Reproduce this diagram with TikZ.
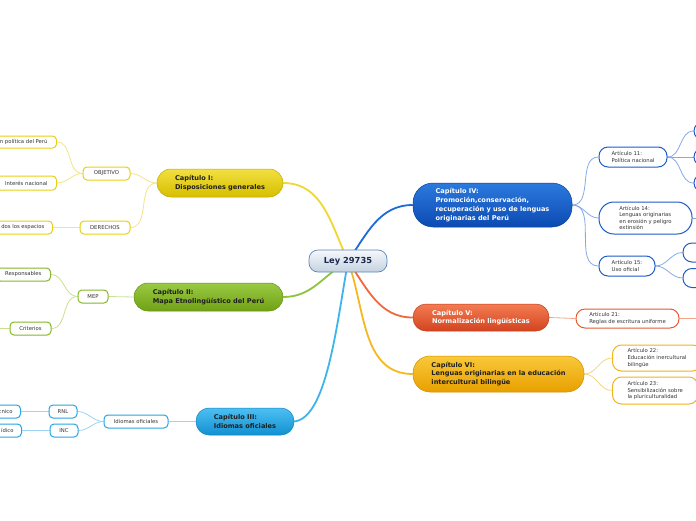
\documentclass[tikz,border=0pt]{standalone}
\usepackage{fontspec}
\setmainfont{DejaVu Sans}
\pgfdeclarelayer{bg}
\pgfsetlayers{bg,main}
\definecolor{yelT}{HTML}{F2E040}\definecolor{yelB}{HTML}{D6BE00}\definecolor{yelL}{HTML}{F3E48A}\definecolor{yelD}{HTML}{E8D010}\definecolor{yelM}{HTML}{F0D830}
\definecolor{grnT}{HTML}{9ACA42}\definecolor{grnB}{HTML}{70A016}\definecolor{grnL}{HTML}{C8E192}\definecolor{grnD}{HTML}{84B828}\definecolor{grnM}{HTML}{8CC43C}
\definecolor{lbuT}{HTML}{4CC0F2}\definecolor{lbuB}{HTML}{1290D2}\definecolor{lbuL}{HTML}{9CD5F2}\definecolor{lbuD}{HTML}{28A4E2}\definecolor{lbuM}{HTML}{3CB4EC}
\definecolor{bluT}{HTML}{2C7ADE}\definecolor{bluB}{HTML}{0C4AB2}\definecolor{bluL}{HTML}{86AAE8}\definecolor{bluD}{HTML}{1E5CC8}\definecolor{bluM}{HTML}{1E6AD6}
\definecolor{oraT}{HTML}{F47C52}\definecolor{oraB}{HTML}{D24420}\definecolor{oraL}{HTML}{F2A68A}\definecolor{oraD}{HTML}{E45A34}\definecolor{oraM}{HTML}{F0683C}
\definecolor{ambT}{HTML}{F9C83A}\definecolor{ambB}{HTML}{E8A000}\definecolor{ambL}{HTML}{F8D67C}\definecolor{ambD}{HTML}{F2B418}\definecolor{ambM}{HTML}{F5B820}
\definecolor{cenT}{HTML}{F6F8FB}\definecolor{cenB}{HTML}{C4D2E0}\definecolor{cenD}{HTML}{5A86B4}\definecolor{cenX}{HTML}{1A2850}
\definecolor{txt}{HTML}{333333}
\begin{document}
\begin{tikzpicture}[x=1pt,y=-1pt,
  chap/.style={line width=0.5pt, align=left, font=\bfseries\fontsize{6.6}{8.8}\selectfont, inner sep=0pt, text=black!88},
  sub/.style={fill=white, line width=1pt, rounded corners=4pt, align=left, font=\fontsize{5.3}{6.6}\selectfont, text=txt, inner sep=0pt},
  main/.style={line width=1.8pt},
  thin/.style={line width=0.8pt}]
\useasboundingbox (0,0) rectangle (696,520);
\clip (0,0) rectangle (696,520);

% central
\node[draw=cenD, line width=0.7pt, top color=cenT, bottom color=cenB, rounded corners=9pt, minimum width=78pt, minimum height=22pt, font=\bfseries\fontsize{8.3}{9}\selectfont, text=cenX] (ley) at (348,261) {Ley 29735};

% chapters
\node[chap, draw=yelB!90!black, top color=yelT, bottom color=yelB, minimum width=126pt, minimum height=28pt, rounded corners=14pt] (c1) at (220,183) {Capítulo I:\\Disposiciones generales};
\node[chap, draw=grnB!90!black, top color=grnT, bottom color=grnB, minimum width=149pt, minimum height=28pt, rounded corners=14pt] (c2) at (208.5,297) {Capítulo II:\\Mapa Etnolingüístico del Perú};
\node[chap, draw=lbuB!90!black, top color=lbuT, bottom color=lbuB, minimum width=98pt, minimum height=27pt, rounded corners=13pt] (c3) at (245,421.5) {Capítulo III:\\Idiomas oficiales};
\node[chap, draw=bluB!90!black, top color=bluT, bottom color=bluB, minimum width=159pt, minimum height=44pt, rounded corners=20pt, text=white] (c4) at (492.5,205) {Capítulo IV:\\Promoción,conservación,\\recuperación y uso de lenguas\\originarias del Perú};
\node[chap, draw=oraB!90!black, top color=oraT, bottom color=oraB, minimum width=136pt, minimum height=27pt, rounded corners=13pt, text=white] (c5) at (481,317.5) {Capítulo V:\\Normalización lingüísticas};
\node[chap, draw=ambB!90!black, top color=ambT, bottom color=ambB, minimum width=171pt, minimum height=36pt, rounded corners=17pt] (c6) at (498.5,374) {Capítulo VI:\\Lenguas originarias en la educación\\intercultural bilingüe};

% chapter I subs
\node[sub, draw=yelD, minimum width=47pt, minimum height=13pt] (obj) at (106.5,173.5) {OBJETIVO};
\node[sub, draw=yelD, minimum width=50pt, minimum height=13pt] (der) at (105,227.5) {DERECHOS};
\node[sub, draw=yelD, anchor=east, inner xsep=9pt, minimum height=12pt] (y1) at (57,142) {n política del Perú};
\node[sub, draw=yelD, anchor=east, inner xsep=9pt, minimum height=14pt] (y2) at (57,183) {Interés nacional};
\node[sub, draw=yelD, anchor=east, inner xsep=8pt, minimum height=13pt] (y3) at (53,227.5) {dos los espacios};

% chapter II subs
\node[sub, draw=grnD, minimum width=30pt, minimum height=13pt] (mep) at (93,296.5) {MEP};
\node[sub, draw=grnD, anchor=east, inner xsep=9pt, minimum height=13pt] (resp) at (51,274.5) {Responsables};
\node[sub, draw=grnD, minimum width=41pt, minimum height=13pt] (crit) at (30.5,328.5) {Criterios};
\coordinate (critL) at (-5,328.5);

% chapter III subs
\node[sub, draw=lbuD, minimum width=64pt, minimum height=13pt] (idi) at (136,421.5) {Idiomas oficiales};
\node[sub, draw=lbuD, minimum width=28pt, minimum height=13pt] (rnl) at (63,411.5) {RNL};
\node[sub, draw=lbuD, minimum width=28pt, minimum height=13pt] (inc) at (64,430.5) {INC};
\node[sub, draw=lbuD, anchor=east, inner xsep=8pt, minimum height=13pt] (tec) at (21,411.5) {cnico};
\node[sub, draw=lbuD, anchor=east, inner xsep=8pt, minimum height=13pt] (jur) at (22,430.5) {ídico};

% chapter IV subs
\node[sub, draw=bluD, rounded corners=9pt, minimum width=68pt, minimum height=20pt] (a11) at (633,157) {Artículo 11:\\Política nacional};
\node[sub, draw=bluD, rounded corners=9pt, minimum width=40pt, minimum height=18pt] (a11a) at (714,131) {};
\node[sub, draw=bluD, rounded corners=9pt, minimum width=40pt, minimum height=18pt] (a11b) at (714,157) {};
\node[sub, draw=bluD, rounded corners=9pt, minimum width=40pt, minimum height=18pt] (a11c) at (714,183) {};
\node[sub, draw=bluD, rounded corners=15pt, minimum width=93pt, minimum height=32pt] (a14) at (645.5,218) {Artículo 14:\\Lenguas originarias\\en erosión y peligro\\extinsión};
\coordinate (a14R) at (700,218);
\node[sub, draw=bluD, rounded corners=9pt, minimum width=56pt, minimum height=20pt] (a15) at (627,266) {Artículo 15:\\Uso oficial};
\node[sub, draw=bluD, rounded corners=9pt, minimum width=40pt, minimum height=19pt] (a15a) at (703,252.5) {};
\node[sub, draw=bluD, rounded corners=9pt, minimum width=40pt, minimum height=19pt] (a15b) at (703,278) {};

% chapter V subs
\node[sub, draw=oraD, rounded corners=9pt, minimum width=103pt, minimum height=19pt] (a21) at (627.5,318.5) {Artículo 21:\\Reglas de escritura uniforme};
\coordinate (a21R) at (700,318.5);

% chapter VI subs
\node[sub, draw=ambD, rounded corners=9pt, anchor=west, inner xsep=15pt, minimum height=26pt] (a22) at (612,358) {Artículo 22:\\Educación inercultural\\bilingüe};
\node[sub, draw=ambD, rounded corners=9pt, anchor=west, inner xsep=15pt, minimum height=27pt] (a23) at (612,390.5) {Artículo 23:\\Sensibilización sobre\\la pluriculturalidad};

\begin{pgfonlayer}{bg}
\fill[white] (0,0) rectangle (696,520);
% central connectors
\draw[main, yelM] (ley.center) to[out=115,in=0] (c1.east);
\draw[main, grnM] (ley.center) to[out=210,in=0] (c2.east);
\draw[main, lbuM] (ley.center) .. controls (336,330) and (326,418) .. (c3.east);
\draw[main, bluM] (ley.center) to[out=55,in=180] (c4.west);
\draw[main, oraM] (ley.center) to[out=-55,in=180] (c5.west);
\draw[main, ambM] (ley.center) to[out=-70,in=180] (c6.west);
% chapter I
\draw[thin, yelL] (c1.west) to[out=180,in=0] (obj.east);
\draw[thin, yelL] (c1.west) to[out=180,in=0] (der.east);
\draw[thin, yelL] (obj.west) to[out=180,in=0] (y1.east);
\draw[thin, yelL] (obj.west) to[out=180,in=0] (y2.east);
\draw[thin, yelL] (der.west) -- (y3.east);
% chapter II
\draw[thin, grnL] (c2.west) -- (mep.east);
\draw[thin, grnL] (mep.west) to[out=180,in=0] (resp.east);
\draw[thin, grnL] (mep.west) to[out=180,in=0] (crit.east);
\draw[thin, grnL] (crit.west) -- (critL);
% chapter III
\draw[thin, lbuL] (c3.west) -- (idi.east);
\draw[thin, lbuL] (idi.west) to[out=180,in=0] (rnl.east);
\draw[thin, lbuL] (idi.west) to[out=180,in=0] (inc.east);
\draw[thin, lbuL] (rnl.west) -- (tec.east);
\draw[thin, lbuL] (inc.west) -- (jur.east);
% chapter IV
\draw[thin, bluL] (c4.east) to[out=0,in=180] (a11.west);
\draw[thin, bluL] (c4.east) to[out=0,in=180] (a14.west);
\draw[thin, bluL] (c4.east) to[out=0,in=180] (a15.west);
\draw[thin, bluL] (a11.east) to[out=0,in=180] (a11a.west);
\draw[thin, bluL] (a11.east) -- (a11b.west);
\draw[thin, bluL] (a11.east) to[out=0,in=180] (a11c.west);
\draw[thin, bluL] (a14.east) -- (a14R);
\draw[thin, bluL] (a15.east) to[out=0,in=180] (a15a.west);
\draw[thin, bluL] (a15.east) to[out=0,in=180] (a15b.west);
% chapter V
\draw[thin, oraL] (c5.east) -- (a21.west);
\draw[thin, oraL] (a21.east) -- (a21R);
% chapter VI
\draw[thin, ambL] (c6.east) to[out=0,in=180] (a22.west);
\draw[thin, ambL] (c6.east) to[out=0,in=180] (a23.west);
\end{pgfonlayer}
\end{tikzpicture}
\end{document}
